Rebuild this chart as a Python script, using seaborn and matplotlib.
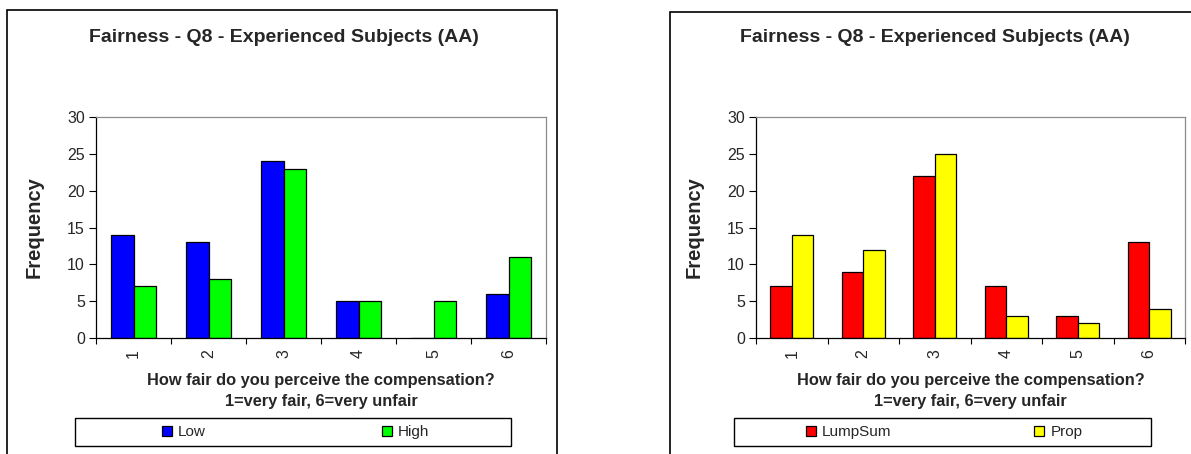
import numpy as np
import pandas as pd
import matplotlib
matplotlib.use("Agg")
import matplotlib.pyplot as plt
import seaborn as sns
from matplotlib.patches import Rectangle
from matplotlib.ticker import FixedLocator

# data
ratings = ["1", "2", "3", "4", "5", "6"]
low = [14, 13, 24, 5, 0, 6]
high = [7, 8, 23, 5, 5, 11]
lumpsum = [7, 9, 22, 7, 3, 13]
prop = [14, 12, 25, 3, 2, 4]

title = "Fairness - Q8 - Experienced Subjects (AA)"
xlab = "How fair do you perceive the compensation?\n1=very fair, 6=very unfair"

sns.set_style("white")
plt.rcParams["font.family"] = ["Liberation Sans", "DejaVu Sans"]

W, H = 1191, 454
fig = plt.figure(figsize=(W / 100, H / 100), dpi=100)


def long_df(a_name, a_vals, b_name, b_vals):
    return pd.DataFrame({
        "rating": ratings * 2,
        "freq": a_vals + b_vals,
        "group": [a_name] * len(ratings) + [b_name] * len(ratings),
    })


def fx(x):
    return x / W


def fy(y):
    return 1 - y / H


def panel(box, frame, df, colors, title_x, leg_box, leg_x, colspace):
    l, t, r, b = box
    ax = fig.add_axes([fx(l), fy(b), (r - l) / W, (b - t) / H])
    sns.barplot(data=df, x="rating", y="freq", hue="group", palette=colors,
                saturation=1, width=0.6, edgecolor="black", linewidth=0.9, ax=ax)
    ax.set_xlim(-0.5, 5.5)
    ax.set_ylim(0, 30)
    ax.set_yticks(range(0, 31, 5))
    ax.tick_params(axis="y", labelsize=11.5, length=5, width=0.8, pad=3, left=True, color="black")
    ax.tick_params(axis="x", which="major", length=0, pad=8, labelsize=11.5, rotation=90)
    ax.xaxis.set_minor_locator(FixedLocator(np.arange(-0.5, 6, 1)))
    ax.tick_params(axis="x", which="minor", length=4, width=0.8, bottom=True, color="black")
    for s in ["left", "bottom"]:
        ax.spines[s].set_color("black")
        ax.spines[s].set_linewidth(0.9)
    for s in ["top", "right"]:
        ax.spines[s].set_color("#8c8c8c")
        ax.spines[s].set_linewidth(0.9)
    ax.set_ylabel("Frequency", fontsize=14.5, fontweight="bold")
    ax.yaxis.set_label_coords(-52 / (r - l), 0.5)
    ax.set_xlabel(xlab, fontsize=11.8, fontweight="bold", linespacing=1.45)
    ax.xaxis.set_label_coords(0.5, -0.16)

    handles, labels = ax.get_legend_handles_labels()
    ax.get_legend().remove()
    fig.legend(handles, labels, loc="center left", bbox_to_anchor=(fx(leg_x), fy(432)),
               ncol=2, frameon=False, fontsize=11, handlelength=0.65, handleheight=0.65,
               handletextpad=0.4, columnspacing=colspace, borderpad=0, borderaxespad=0)
    lx0, lx1 = leg_box
    fig.add_artist(Rectangle((fx(lx0), fy(446)), (lx1 - lx0) / W, 28 / H,
                             transform=fig.transFigure, fill=False, edgecolor="black", lw=1))

    fx0, fy0, fx1 = frame
    fig.add_artist(Rectangle((fx(fx0), -0.1), (fx1 - fx0) / W, fy(fy0) + 0.1,
                             transform=fig.transFigure, fill=False, edgecolor="black", lw=1.2))
    fig.text(fx(title_x), fy(37), title, ha="center", va="center", fontsize=14, fontweight="bold")
    return ax


panel((96, 117, 546, 338), (7, 10, 557), long_df("Low", low, "High", high),
      ["#0000ff", "#00ff00"], 284, (75, 511), 162, 11.5)
panel((756, 117, 1185, 338), (670, 12, 1240), long_df("LumpSum", lumpsum, "Prop", prop),
      ["#ff0000", "#ffff00"], 935, (734, 1151), 806, 9.35)

fig.savefig("out.png", dpi=100, facecolor="white")
